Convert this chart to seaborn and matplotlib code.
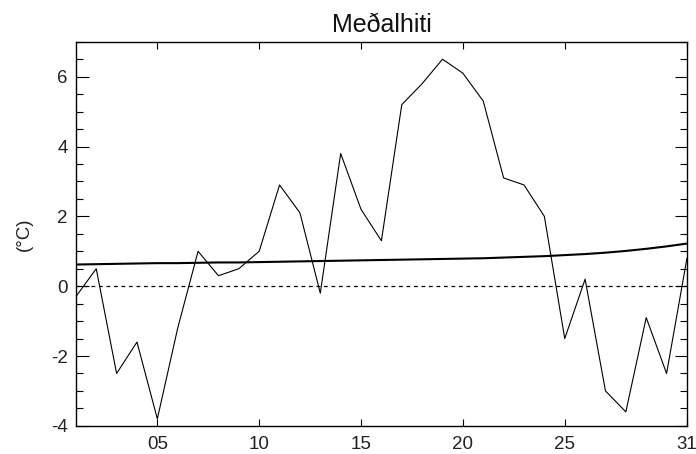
import numpy as np
import pandas as pd
import matplotlib
matplotlib.use("Agg")
import matplotlib.pyplot as plt
import seaborn as sns
from matplotlib.ticker import MultipleLocator, FixedLocator

days = list(range(1, 32))
temp = [-0.3, 0.5, -2.5, -1.6, -3.8, -1.2, 1.0, 0.3, 0.5, 1.0,
        2.9, 2.1, -0.2, 3.8, 2.2, 1.3, 5.2, 5.8, 6.5, 6.1,
        5.3, 3.1, 2.9, 2.0, -1.5, 0.2, -3.0, -3.6, -0.9, -2.5, 0.8]
normal = [0.62, 0.63, 0.64, 0.65, 0.66, 0.66, 0.67, 0.68, 0.68, 0.69,
          0.70, 0.71, 0.72, 0.73, 0.74, 0.75, 0.76, 0.77, 0.78, 0.79,
          0.80, 0.82, 0.84, 0.86, 0.89, 0.92, 0.96, 1.01, 1.07, 1.14, 1.22]
xticks = [5, 10, 15, 20, 25, 31]
xlabels = ["05", "10", "15", "20", "25", "31"]

df = pd.DataFrame({"dagur": days, "hiti": temp, "medal": normal})

sns.set_style("ticks")
plt.rcParams["font.family"] = ["Liberation Sans", "DejaVu Sans"]
plt.rcParams["axes.unicode_minus"] = False

fig = plt.figure(figsize=(6.96, 4.54), dpi=100)
ax = fig.add_axes([0.109, 0.062, 0.878, 0.846])

ax.axhline(0, color="black", lw=0.9, ls=(0, (3, 3)))
sns.lineplot(data=df, x="dagur", y="hiti", color="black", lw=0.8, ax=ax)
sns.lineplot(data=df, x="dagur", y="medal", color="black", lw=1.5, ax=ax)

ax.set_xlim(1, 31)
ax.set_ylim(-4, 7)
ax.xaxis.set_major_locator(FixedLocator(xticks))
ax.set_xticklabels(xlabels)
ax.yaxis.set_major_locator(FixedLocator([-4, -2, 0, 2, 4, 6]))
ax.yaxis.set_minor_locator(MultipleLocator(0.5))
ax.tick_params(axis="both", which="both", direction="in", top=True, right=True,
               labelsize=13.5, colors="black")
ax.tick_params(axis="both", which="both", labelcolor="#222222")
ax.tick_params(axis="y", which="major", length=9, width=0.8, pad=6)
ax.tick_params(axis="y", which="minor", length=5, width=0.8)
ax.tick_params(axis="x", which="major", length=5, width=0.8, pad=7)
for s in ax.spines.values():
    s.set_linewidth(1.0)
    s.set_color("black")

ax.set_xlabel("")
ax.set_ylabel("(°C)", fontsize=13.5, color="#222222", labelpad=13)
ax.set_title("Meðalhiti", fontsize=18, pad=7, color="#111111")

fig.savefig("out.png", dpi=100)
